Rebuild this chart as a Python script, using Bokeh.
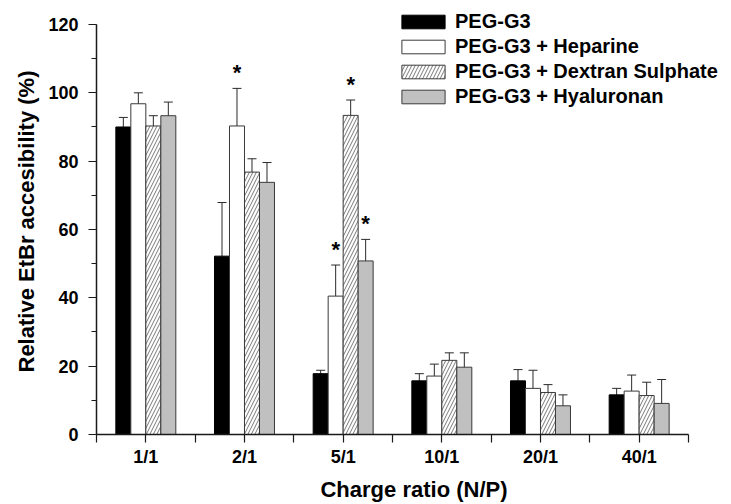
import numpy as np
from bokeh.plotting import figure
from bokeh.models import (ColumnDataSource, Whisker, TeeHead, FixedTicker,
                          SingleIntervalTicker, Legend, LegendItem, Range1d, Title)
from bokeh.core.properties import value
from bokeh.embed import file_html
from bokeh.resources import INLINE

# Charge ratios (N/P)
ratios = ["1/1", "2/1", "5/1", "10/1", "20/1", "40/1"]

# Relative EtBr accessibility (%) and standard deviations
peg_g3 = [90.0, 52.2, 17.8, 15.7, 15.7, 11.6]
peg_g3_err = [2.8, 15.7, 1.0, 2.1, 3.3, 1.9]

heparine = [96.8, 90.3, 40.5, 17.1, 13.5, 12.7]
heparine_err = [3.2, 11.0, 9.1, 3.5, 5.3, 4.7]

dextran = [90.3, 76.8, 93.4, 21.7, 12.3, 11.4]
dextran_err = [3.0, 3.9, 4.5, 2.2, 2.3, 3.9]

hyaluronan = [93.3, 73.8, 50.8, 19.7, 8.4, 9.1]
hyaluronan_err = [4.0, 5.8, 6.3, 4.2, 3.2, 7.0]

# significance marks (1 = starred)
peg_g3_sig = [0, 0, 0, 0, 0, 0]
heparine_sig = [0, 1, 1, 0, 0, 0]
dextran_sig = [0, 0, 1, 0, 0, 0]
hyaluronan_sig = [0, 0, 1, 0, 0, 0]

FONT = "Liberation Sans"
EDGE = "#3a3a3a"

series = [
    dict(name="PEG-G3", vals=peg_g3, err=peg_g3_err, sig=peg_g3_sig,
         fill="black", line="black", hatch=None),
    dict(name="PEG-G3 + Heparine", vals=heparine, err=heparine_err, sig=heparine_sig,
         fill="white", line=EDGE, hatch=None),
    dict(name="PEG-G3 + Dextran Sulphate", vals=dextran, err=dextran_err, sig=dextran_sig,
         fill="white", line=EDGE, hatch="/"),
    dict(name="PEG-G3 + Hyaluronan", vals=hyaluronan, err=hyaluronan_err, sig=hyaluronan_sig,
         fill="#c0c0c0", line=EDGE, hatch=None),
]

positions = np.arange(1, len(ratios) + 1, dtype=float)
bar_w = 0.152
offsets = (np.arange(len(series)) - (len(series) - 1) / 2) * bar_w

# The frame runs past the axes (to the right and above) so that the
# legend has room; the axes themselves are bounded to the data extent.
Y_MAX = 120
X_LO, X_HI = 0.5, 6.5
p = figure(frame_width=635, frame_height=426,
           x_range=Range1d(X_LO, 6.936), y_range=Range1d(0, 124.68),
           output_backend="svg", toolbar_location=None,
           min_border_left=96, min_border_right=0,
           min_border_top=8, min_border_bottom=70)
p.outline_line_color = None
p.xgrid.visible = False
p.ygrid.visible = False
p.background_fill_color = "white"

items = []
star_x, star_y = [], []
for s, off in zip(series, offsets):
    vals = np.array(s["vals"])
    err = np.array(s["err"])
    src = ColumnDataSource(dict(x=positions + off, top=vals,
                                upper=vals + err, lower=vals - err))
    kw = dict(fill_color=s["fill"], line_color=s["line"], line_width=1)
    if s["hatch"]:
        kw.update(hatch_pattern=s["hatch"], hatch_color="#555555",
                  hatch_scale=7, hatch_weight=0.8)
    r = p.vbar(x="x", top="top", width=bar_w, bottom=0, source=src, **kw)
    items.append(LegendItem(label=s["name"], renderers=[r]))
    w = Whisker(base="x", upper="upper", lower="lower", source=src,
                line_color="#2a2a2a", line_width=1,
                upper_head=TeeHead(size=9, line_color="#2a2a2a", line_width=1),
                lower_head=TeeHead(size=9, line_color="#2a2a2a", line_width=1))
    p.add_layout(w)
    for xi, v, e, flag in zip(positions + off, vals, err, s["sig"]):
        if flag:
            star_x.append(xi)
            star_y.append(v + e)

p.text(x=star_x, y=star_y, text=["*"] * len(star_x),
       text_font=value(FONT), text_font_style="bold", text_font_size="22px",
       text_align="center", text_baseline="alphabetic", y_offset=-16,
       text_color="black")

# axes
xa = p.xaxis[0]
xa.ticker = FixedTicker(ticks=list(positions),
                        minor_ticks=list(np.arange(X_LO, X_HI + 0.5, 1.0)))
xa.bounds = (X_LO, X_HI)
xa.major_label_overrides = {float(k): lab for k, lab in zip(positions, ratios)}
xa.axis_label = "Charge ratio (N/P)"

ya = p.yaxis[0]
ya.ticker = SingleIntervalTicker(interval=20, num_minor_ticks=2)
ya.bounds = (0, Y_MAX)

for ax in (xa, ya):
    ax.axis_line_color = "#1a1a1a"
    ax.axis_line_width = 1.5
    ax.major_tick_line_color = "#1a1a1a"
    ax.minor_tick_line_color = "#1a1a1a"
    ax.major_tick_line_width = 1.2
    ax.minor_tick_line_width = 1.2
    ax.major_tick_in = 0
    ax.minor_tick_in = 0
    ax.major_label_text_font = FONT
    ax.major_label_text_font_style = "bold"
    ax.major_label_text_font_size = "18px"
    ax.major_label_text_color = "black"
    ax.axis_label_text_font = FONT
    ax.axis_label_text_font_style = "bold"
    ax.axis_label_text_font_size = "22px"
    ax.axis_label_text_color = "black"

xa.major_tick_out = 8
xa.minor_tick_out = 8
xa.major_label_standoff = 4
xa.axis_label_standoff = 7
ya.major_tick_out = 8
ya.minor_tick_out = 5
ya.major_label_standoff = 10

# y-axis title, centred on the bounded axis rather than the whole frame
ytitle = Title(text="Relative EtBr accesibility (%)", align="center",
               offset=-15, standoff=14,
               text_font=FONT, text_font_style="bold",
               text_font_size="22px", text_color="black")
p.add_layout(ytitle, "left")

legend = Legend(items=items, location=(300, 326),
                glyph_width=54, glyph_height=17, label_standoff=5,
                spacing=2, padding=0, margin=0,
                border_line_color=None, background_fill_alpha=0,
                label_text_font=FONT, label_text_font_style="bold",
                label_text_font_size="20px", label_text_color="black")
p.add_layout(legend)

open("out.html", "w").write(file_html(p, INLINE))
